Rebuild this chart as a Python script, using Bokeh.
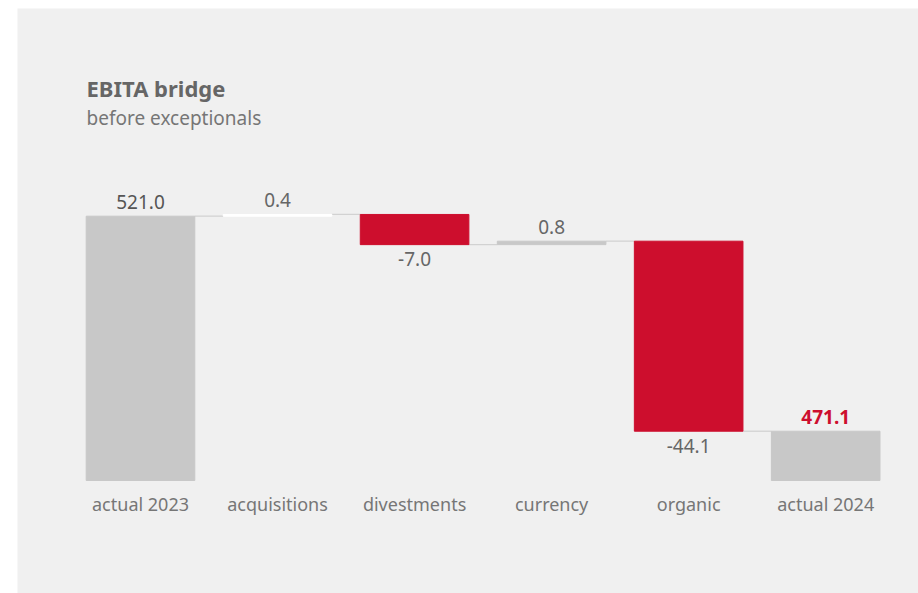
from bokeh.plotting import figure
from bokeh.models import ColumnDataSource, Range1d, Label
from bokeh.core.properties import value
from bokeh.embed import file_html
from bokeh.resources import INLINE

# ---- data ----
categories = ["actual 2023", "acquisitions", "divestments", "currency", "organic", "actual 2024"]
start_value = 521.0
steps = [0.4, -7.0, 0.8, -44.1]
end_value = 471.1
value_labels = ["521.0", "0.4", "-7.0", "0.8", "-44.1", "471.1"]

# ---- styles ----
FONT = "Noto Sans"
bar_colors = ["#c8c8c8", "#ffffff", "#cd0e2d", "#c8c8c8", "#cd0e2d", "#c8c8c8"]
label_colors = ["#555555", "#666666", "#666666", "#666666", "#666666", "#cd0e2d"]
label_styles = ["normal", "normal", "normal", "normal", "normal", "bold"]
BG = "#f0f0f0"
axis_floor = 459.66      # value axis starts here (broken axis)
px_per_unit = 4.309
slot_px = 137.04
BAR_W = 0.7925

xs = list(range(len(categories)))

# waterfall geometry from data
bottoms, tops = [axis_floor], [start_value]
level = start_value
levels_after = [start_value]
for s in steps:
    new = level + s
    bottoms.append(min(level, new))
    tops.append(max(level, new))
    level = new
    levels_after.append(level)
bottoms.append(axis_floor)
tops.append(end_value)

label_y, label_off = [], []
deltas = [start_value] + steps + [end_value]
for i, d in enumerate(deltas):
    if d >= 0:
        label_y.append(tops[i]); label_off.append(-14)
    else:
        label_y.append(bottoms[i]); label_off.append(14.5)

W, H = 901, 585
y_range = Range1d(axis_floor - 113 / px_per_unit, axis_floor + 472 / px_per_unit)
x_start = -123 / slot_px
x_range = Range1d(x_start, x_start + W / slot_px)

p = figure(x_range=x_range, y_range=y_range, width=W, height=H,
           output_backend="svg", toolbar_location=None,
           min_border=0, min_border_left=0, min_border_right=0,
           min_border_top=0, min_border_bottom=0)
p.margin = (8, 0, 0, 17)
p.background_fill_color = BG
p.border_fill_color = BG
p.outline_line_color = None
p.grid.visible = False
p.axis.visible = False

# connectors
conn = ColumnDataSource(dict(x0=[i + BAR_W / 2 for i in xs[:-1]],
                             x1=[i + 1 - BAR_W / 2 for i in xs[:-1]],
                             y=levels_after))
p.segment(x0="x0", x1="x1", y0="y", y1="y", source=conn,
          line_color="#d2d2d2", line_width=1.3)

bars = ColumnDataSource(dict(x=xs, top=tops, bottom=bottoms, color=bar_colors))
p.vbar(x="x", top="top", bottom="bottom", width=BAR_W, source=bars,
       fill_color="color", line_color="color", line_width=1)

labs = ColumnDataSource(dict(x=xs, y=label_y, t=value_labels, c=label_colors,
                             s=label_styles, off=label_off))
p.text(x="x", y="y", text="t", source=labs, text_color="c", text_font_style="s",
       y_offset="off", text_align="center", text_baseline="alphabetic",
       text_font=value(FONT), text_font_size="19px")

# category labels (acting as the x axis)
cats = ColumnDataSource(dict(x=xs, y=[axis_floor] * len(xs), t=categories))
p.text(x="x", y="y", text="t", source=cats, text_color="#767676", y_offset=23,
       text_align="center", text_baseline="alphabetic",
       text_font=value(FONT), text_font_size="18px")

p.add_layout(Label(x=69, y=506, x_units="screen", y_units="screen", text="EBITA bridge",
                   text_font=FONT, text_font_size="22px", text_font_style="bold",
                   text_color="#666666", text_baseline="alphabetic"))
p.add_layout(Label(x=69, y=476, x_units="screen", y_units="screen", text="before exceptionals",
                   text_font=FONT, text_font_size="19px",
                   text_color="#767676", text_baseline="alphabetic"))

open("out.html", "w").write(file_html(p, INLINE))
